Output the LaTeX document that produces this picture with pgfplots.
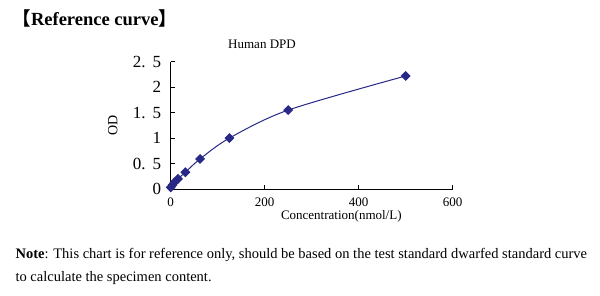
\documentclass[border=0pt]{standalone}
\usepackage{fontspec}
\setmainfont{Liberation Serif}
\newfontfamily\cjk{Noto Sans CJK SC}
\usepackage{pgfplots}
\pgfplotsset{compat=1.18}
\definecolor{navy}{RGB}{40,40,135}
\begin{document}
\begin{tikzpicture}[x=1pt,y=1pt]
\path[fill=white] (0,0) rectangle (600,296);
\node[anchor=west,font=\fontsize{18.5}{20}\selectfont\bfseries] at (9,278) {{\cjk\bfseries 【}Reference curve{\cjk\bfseries 】}};
\node[font=\fontsize{13}{15}\selectfont] at (262,252) {Human DPD};
\begin{axis}[
  at={(170.7pt,107pt)}, anchor=south west,
  scale only axis, width=282pt, height=127.3pt,
  xmin=0, xmax=600, ymin=0, ymax=2.5,
  axis lines=left, axis line style={-, black, line width=0.6pt},
  tick align=inside, major tick length=4pt,
  tick style={black, line width=0.6pt},
  xtick={0,200,400,600}, ytick={0,0.5,1,1.5,2,2.5},
  yticklabels={0,{0.\hspace{7pt}5},1,{1.\hspace{7pt}5},2,{2.\hspace{7pt}5}},
  /pgf/number format/assume math mode=true,
  xticklabel style={font=\fontsize{13}{15}\selectfont, yshift=-5pt},
  yticklabel style={font=\fontsize{17}{19}\selectfont, xshift=-6pt},
  xlabel={Concentration(nmol/L)}, xlabel style={font=\fontsize{13}{15}\selectfont, at={(axis description cs:0.605,0)}, anchor=center, yshift=-27pt},
  ylabel={OD}, ylabel style={font=\fontsize{14}{16}\selectfont, at={(axis description cs:-0.205,0.5)}, anchor=center},
  clip=false,
]
\addplot[navy, line width=1pt, smooth, mark=square*, mark size=3pt, mark options={rotate=45, fill=navy, draw=navy}]
coordinates {(0,0.03) (3.9,0.08) (7.8,0.13) (15.6,0.2) (31.25,0.33) (62.5,0.59) (125,1.0) (250,1.55) (500,2.22)};
\end{axis}
\node[anchor=west,font=\fontsize{14.5}{16}\selectfont] at (12,41) {\textbf{Note}: This chart is for reference only, should be based on the test standard dwarfed standard curve};
\node[anchor=west,font=\fontsize{14.5}{16}\selectfont] at (12,18) {to calculate the specimen content.};
\end{tikzpicture}
\end{document}
